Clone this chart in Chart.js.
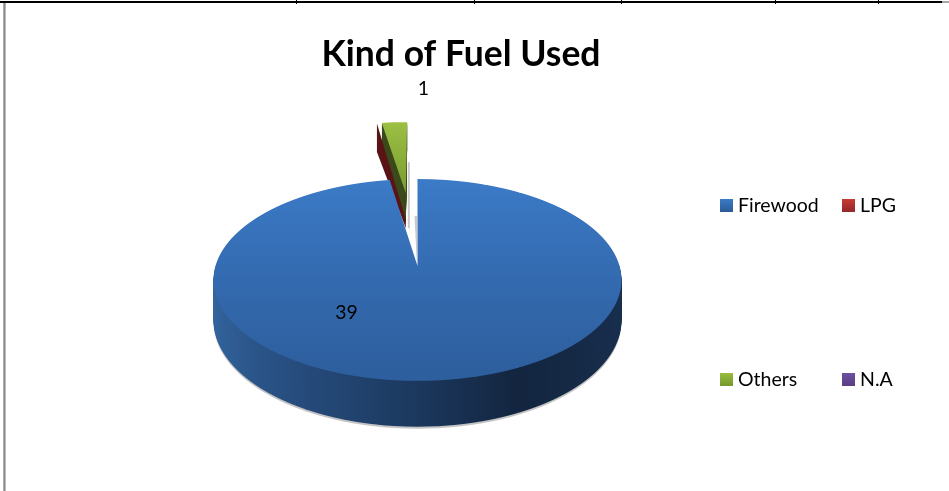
<!DOCTYPE html>
<html>
<head>
<meta charset="utf-8">
<style>
  html, body { margin: 0; padding: 0; background: #fff; overflow: hidden; }
  #wrap { position: absolute; left: 0; top: 0; width: 922px; height: 491px; }
  .rule { position: absolute; background: #000; }
</style>
<script src="https://cdn.jsdelivr.net/npm/chart.js@4/dist/chart.umd.min.js"></script>
</head>
<body>
<div id="wrap"><canvas id="fuel" width="922" height="491"></canvas></div>
<div class="rule" style="left:0;top:1px;width:942px;height:2px"></div>
<div class="rule" style="left:942px;top:1px;width:7px;height:2px;background:#a6a6a6"></div>
<div class="rule" style="left:296px;top:0;width:1px;height:4px"></div>
<div class="rule" style="left:474px;top:0;width:1px;height:4px"></div>
<div class="rule" style="left:621px;top:0;width:1px;height:4px"></div>
<div class="rule" style="left:775px;top:0;width:1px;height:4px"></div>
<div class="rule" style="left:878px;top:0;width:1px;height:4px"></div>
<div class="rule" style="left:3px;top:3px;width:3px;height:488px;background:linear-gradient(90deg,#bdbdbd,#8c8c8c,#cfcfcf)"></div>
<script>
var categories = ['Firewood', 'LPG', 'Others', 'N.A'];
var fuelCounts = [39, 0, 1, 0];
var sliceColors = ['#3a78c4', '#c0352f', '#94b83c', '#6b4c9a'];
var legendTop = ['#3d7dcb', '#cc3d36', '#9cc043', '#7350a4'];
var legendBottom = ['#2c5d9b', '#96292a', '#779a2e', '#5a3f86'];
var pullOut = [0, 0.82, 0.82, 0];   // share of the radius each slice is pulled away

// how the flat pie is laid back in perspective
var view = { x: 417.5, y: 266, rx: 202, ry: 99, tilt: 0.138, depth: 39.6 };

var rowRange = function (top, bottom) { return [Math.floor(top), Math.ceil(bottom)]; };

// paint one arc a row at a time so the circle picks up the perspective
function paintArc(ctx, arc, pull, lift, fill, rows) {
    var r = arc.outerRadius;
    var mid = (arc.startAngle + arc.endAngle) / 2;
    var ou = Math.cos(mid) * pull, ov = Math.sin(mid) * pull;
    var saved = arc.options;
    arc.options = Object.create(saved, { backgroundColor: { value: fill }, borderWidth: { value: 0 } });
    for (var Y = rows[0]; Y < rows[1]; Y++) {
        var t = Y + 0.5 - view.y;
        var bot = view.ry + view.tilt * t;
        var v = (t - lift) / bot;
        var w = 1 - view.tilt * v;
        if (w <= 0.2) continue;
        var dv = 1 / bot - (t - lift) * view.tilt / (bot * bot);
        var a = view.rx / (r * w);
        var d = 1 / (r * dv);
        var srcY = arc.y + r * (v - ov);
        ctx.save();
        ctx.beginPath();
        ctx.rect(0, Y, ctx.canvas.width, 1);
        ctx.clip();
        ctx.setTransform(a, 0, 0, d, view.x + a * (r * ou - arc.x), Y + 0.5 - d * srcY);
        arc.draw(ctx);
        ctx.restore();
    }
    arc.options = saved;
}

function project(arc, u, v, lift) {
    var w = 1 - view.tilt * v;
    return { x: view.x + view.rx * u / w, y: view.y + (view.ry * v + (lift || 0)) / w };
}

var pie3d = {
    id: 'pie3d',
    beforeDatasetsDraw: function (chart) {
        var ctx = chart.ctx;
        var arcs = chart.getDatasetMeta(0).data;
        var fire = arcs[0], lpg = arcs[1], other = arcs[2];
        var r = fire.outerRadius;

        var side = ctx.createLinearGradient(fire.x - r, 0, fire.x + r, 0);
        side.addColorStop(0, '#33659f');
        side.addColorStop(0.15, '#2a5387');
        side.addColorStop(0.45, '#1d3c64');
        side.addColorStop(0.72, '#13253f');
        side.addColorStop(1, '#182f4e');

        var skin = ctx.createLinearGradient(0, fire.y - r, 0, fire.y + r);
        skin.addColorStop(0, '#3c7bc8');
        skin.addColorStop(1, '#2d5e9d');

        var green = ctx.createLinearGradient(0, other.y - r, 0, other.y + r);
        green.addColorStop(0, '#9cc043');
        green.addColorStop(0.7, '#6f8f2c');
        green.addColorStop(1, '#6f8f2c');

        var mid = (other.startAngle + other.endAngle) / 2;
        var apex = project(other, Math.cos(mid) * pullOut[2], Math.sin(mid) * pullOut[2], 0);

        // faint shadows the slices leave inside the gap
        ctx.fillStyle = '#c9c9c9';
        ctx.fillRect(apex.x + 2, apex.y - 31, 2, 66);
        ctx.beginPath();
        ctx.moveTo(view.x - 3, view.y - 50);
        ctx.lineTo(view.x - 0.5, view.y - 50);
        ctx.lineTo(view.x - 0.5, view.y);
        ctx.closePath();
        ctx.fill();

        // green wall, then the empty LPG slice wall, then the green top
        for (var s = 34; s >= 1; s--) paintArc(ctx, other, pullOut[2], s, '#3c4a1c', rowRange(115, 235));

        var a0 = lpg.startAngle;
        var u0 = Math.cos(a0), v0 = Math.sin(a0);
        var ou = Math.cos(a0) * pullOut[1] * 0.5, ov = Math.sin(a0) * pullOut[1];
        var rim = project(lpg, u0 + ou - 0.03, v0 + ov, 0);
        var rimLow = project(lpg, u0 + ou - 0.03, v0 + ov, view.depth * 0.9);
        ctx.fillStyle = '#5a1416';
        ctx.beginPath();
        ctx.moveTo(rim.x, rim.y);
        ctx.lineTo(apex.x, apex.y + 26);
        ctx.lineTo(apex.x, apex.y + 35);
        ctx.lineTo(rimLow.x, rimLow.y);
        ctx.closePath();
        ctx.fill();

        paintArc(ctx, other, pullOut[2], 0, green, rowRange(115, 200));

        // soft edge under the pie, the wall, then the top on it
        paintArc(ctx, fire, 0, 48 * 0.86, '#c4c4c4', rowRange(view.y, 434));
        for (var k = 46; k >= 1; k--) paintArc(ctx, fire, 0, k * 0.86, side, rowRange(view.y, 432));
        paintArc(ctx, fire, 0, 0, skin, rowRange(175, 385));

        // value labels
        ctx.fillStyle = '#000';
        ctx.font = '19.5px Lato, "Open Sans", sans-serif';
        ctx.textAlign = 'center';
        ctx.textBaseline = 'middle';
        ctx.fillText(String(fuelCounts[0]), view.x - 71, view.y + 47);
        ctx.fillText(String(fuelCounts[2]), view.x + 6, view.y - 177);

        // legend, spread over two rows the way the sheet had it
        var slots = [[720, 205], [842, 205], [720, 379], [842, 379]];
        ctx.textAlign = 'left';
        categories.forEach(function (name, i) {
            var p = slots[i];
            var g = ctx.createLinearGradient(0, p[1] - 7, 0, p[1] + 6);
            g.addColorStop(0, legendTop[i]);
            g.addColorStop(1, legendBottom[i]);
            ctx.fillStyle = g;
            ctx.fillRect(p[0], p[1] - 6, 13, 13);
            ctx.fillStyle = '#000';
            ctx.fillText(name, p[0] + 18, p[1] + 1);
        });
        return false;
    }
};

new Chart(document.getElementById('fuel').getContext('2d'), {
    type: 'pie',
    data: {
        labels: categories,
        datasets: [{
            label: 'Kind of Fuel Used',
            data: fuelCounts,
            backgroundColor: sliceColors,
            borderWidth: 0
        }]
    },
    plugins: [pie3d],
    options: {
        responsive: false,
        animation: false,
        layout: { padding: { top: 33 } },
        plugins: {
            legend: { display: false },
            tooltip: { enabled: false },
            title: {
                display: true,
                text: 'Kind of Fuel Used',
                color: '#000',
                font: { family: 'Lato', size: 35.5, weight: 'bold' },
                padding: { top: 0, bottom: 0 }
            }
        }
    }
});
</script>
</body>
</html>
